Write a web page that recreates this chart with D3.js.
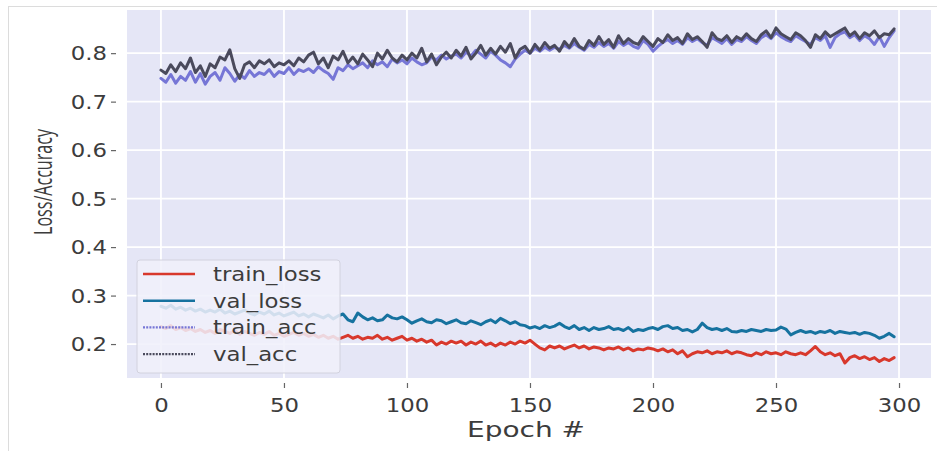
<!DOCTYPE html>
<html>
<head>
<meta charset="utf-8">
<script src="https://cdn.jsdelivr.net/npm/d3@7"></script>
<style>
  body { margin: 0; background: #fff; }
  svg { display: block; }
  text { font-family: "DejaVu Sans", sans-serif; fill: #3c3c3c; }
</style>
</head>
<body>
<svg id="chart" width="937" height="451"></svg>
<script>
// epochs are sampled every 2nd epoch, 0..298
const epochs = d3.range(0, 300, 2);

const trainLoss = [
  0.236, 0.232, 0.238, 0.230, 0.234, 0.228, 0.232, 0.226, 0.230, 0.224,
  0.228, 0.222, 0.230, 0.226, 0.222, 0.228, 0.220, 0.226, 0.222, 0.218,
  0.224, 0.220, 0.226, 0.218, 0.222, 0.216, 0.220, 0.224, 0.218, 0.222,
  0.216, 0.220, 0.214, 0.218, 0.212, 0.216, 0.210, 0.214, 0.218, 0.212,
  0.216, 0.210, 0.214, 0.212, 0.218, 0.210, 0.214, 0.208, 0.212, 0.216,
  0.208, 0.212, 0.206, 0.210, 0.204, 0.208, 0.198, 0.204, 0.200, 0.206,
  0.202, 0.206, 0.198, 0.204, 0.200, 0.206, 0.198, 0.202, 0.196, 0.202,
  0.198, 0.204, 0.200, 0.206, 0.202, 0.208, 0.200, 0.192, 0.188, 0.196,
  0.192, 0.196, 0.190, 0.194, 0.198, 0.192, 0.196, 0.190, 0.194, 0.192,
  0.188, 0.192, 0.190, 0.194, 0.188, 0.192, 0.186, 0.190, 0.188, 0.192,
  0.190, 0.186, 0.190, 0.184, 0.188, 0.180, 0.186, 0.174, 0.180, 0.184,
  0.182, 0.186, 0.180, 0.184, 0.182, 0.186, 0.180, 0.184, 0.182, 0.178,
  0.176, 0.182, 0.178, 0.184, 0.180, 0.182, 0.178, 0.184, 0.180, 0.178,
  0.182, 0.178, 0.186, 0.195, 0.184, 0.178, 0.182, 0.176, 0.180, 0.161,
  0.172, 0.176, 0.170, 0.174, 0.168, 0.172, 0.164, 0.170, 0.166, 0.172
];

const valLoss = [
  0.278, 0.274, 0.280, 0.272, 0.276, 0.270, 0.274, 0.268, 0.272, 0.266,
  0.270, 0.266, 0.272, 0.264, 0.268, 0.262, 0.266, 0.270, 0.264, 0.260,
  0.266, 0.262, 0.268, 0.260, 0.264, 0.258, 0.262, 0.266, 0.258, 0.262,
  0.256, 0.262, 0.258, 0.254, 0.260, 0.252, 0.258, 0.262, 0.250, 0.246,
  0.264, 0.256, 0.250, 0.254, 0.248, 0.250, 0.260, 0.254, 0.252, 0.256,
  0.250, 0.243, 0.248, 0.252, 0.246, 0.244, 0.250, 0.248, 0.242, 0.246,
  0.250, 0.244, 0.242, 0.248, 0.244, 0.240, 0.246, 0.250, 0.244, 0.253,
  0.248, 0.242, 0.246, 0.240, 0.238, 0.233, 0.236, 0.232, 0.238, 0.234,
  0.237, 0.243, 0.236, 0.232, 0.238, 0.230, 0.234, 0.228, 0.234, 0.230,
  0.232, 0.236, 0.230, 0.232, 0.228, 0.234, 0.226, 0.230, 0.228, 0.232,
  0.234, 0.230, 0.236, 0.238, 0.232, 0.234, 0.228, 0.230, 0.225, 0.230,
  0.243, 0.234, 0.230, 0.232, 0.228, 0.232, 0.226, 0.225, 0.228, 0.226,
  0.230, 0.228, 0.226, 0.230, 0.228, 0.229, 0.235, 0.231, 0.219, 0.224,
  0.228, 0.224, 0.226, 0.222, 0.226, 0.224, 0.228, 0.222, 0.226, 0.224,
  0.222, 0.224, 0.220, 0.224, 0.222, 0.218, 0.212, 0.216, 0.222, 0.215
];

const trainAcc = [
  0.748, 0.740, 0.756, 0.738, 0.752, 0.744, 0.762, 0.740, 0.758, 0.736,
  0.752, 0.760, 0.744, 0.770, 0.758, 0.742, 0.756, 0.748, 0.764, 0.752,
  0.760, 0.756, 0.766, 0.752, 0.762, 0.758, 0.770, 0.756, 0.766, 0.762,
  0.768, 0.760, 0.772, 0.764, 0.758, 0.746, 0.770, 0.764, 0.776, 0.768,
  0.774, 0.780, 0.770, 0.784, 0.776, 0.782, 0.772, 0.788, 0.780, 0.786,
  0.778, 0.790, 0.782, 0.776, 0.780, 0.792, 0.786, 0.796, 0.788, 0.794,
  0.798, 0.790, 0.802, 0.794, 0.806, 0.798, 0.790, 0.804, 0.796, 0.786,
  0.780, 0.772, 0.788, 0.798, 0.806, 0.800, 0.810, 0.804, 0.812, 0.806,
  0.812, 0.808, 0.816, 0.810, 0.820, 0.812, 0.806, 0.818, 0.812, 0.822,
  0.814, 0.820, 0.810, 0.824, 0.816, 0.822, 0.814, 0.810, 0.826, 0.818,
  0.804, 0.814, 0.822, 0.828, 0.820, 0.826, 0.818, 0.832, 0.824, 0.830,
  0.822, 0.816, 0.832, 0.826, 0.820, 0.830, 0.818, 0.828, 0.824, 0.834,
  0.826, 0.820, 0.832, 0.838, 0.830, 0.842, 0.834, 0.828, 0.824, 0.836,
  0.830, 0.824, 0.818, 0.832, 0.826, 0.836, 0.812, 0.832, 0.840, 0.844,
  0.832, 0.838, 0.826, 0.836, 0.830, 0.818, 0.834, 0.814, 0.832, 0.846
];

const valAcc = [
  0.765, 0.758, 0.776, 0.762, 0.780, 0.768, 0.790, 0.760, 0.774, 0.752,
  0.778, 0.770, 0.792, 0.786, 0.807, 0.768, 0.748, 0.776, 0.782, 0.770,
  0.784, 0.778, 0.786, 0.772, 0.780, 0.776, 0.784, 0.774, 0.790, 0.782,
  0.796, 0.802, 0.778, 0.790, 0.770, 0.794, 0.786, 0.804, 0.780, 0.792,
  0.778, 0.798, 0.786, 0.772, 0.800, 0.788, 0.806, 0.790, 0.782, 0.796,
  0.786, 0.800, 0.790, 0.810, 0.782, 0.798, 0.776, 0.792, 0.802, 0.790,
  0.806, 0.794, 0.812, 0.788, 0.800, 0.816, 0.796, 0.810, 0.798, 0.814,
  0.802, 0.820, 0.790, 0.808, 0.814, 0.800, 0.818, 0.806, 0.822, 0.810,
  0.816, 0.804, 0.824, 0.812, 0.830, 0.814, 0.808, 0.826, 0.816, 0.834,
  0.818, 0.828, 0.812, 0.836, 0.820, 0.830, 0.822, 0.818, 0.834, 0.824,
  0.814, 0.830, 0.822, 0.838, 0.826, 0.832, 0.820, 0.840, 0.828, 0.834,
  0.824, 0.812, 0.842, 0.830, 0.826, 0.836, 0.822, 0.834, 0.828, 0.840,
  0.830, 0.824, 0.838, 0.846, 0.832, 0.852, 0.840, 0.834, 0.828, 0.842,
  0.836, 0.826, 0.812, 0.838, 0.830, 0.844, 0.834, 0.840, 0.846, 0.852,
  0.836, 0.844, 0.830, 0.842, 0.836, 0.846, 0.832, 0.840, 0.838, 0.850
];

const xTicks = [0, 50, 100, 150, 200, 250, 300];
const yTicks = [0.2, 0.3, 0.4, 0.5, 0.6, 0.7, 0.8];

const seriesNames = ["train_loss", "val_loss", "train_acc", "val_acc"];
const seriesValues = [trainLoss, valLoss, trainAcc, valAcc];
const colors = ["#d8382c", "#16729f", "#7676d6", "#4a4a5c"];

// layout
const plot = { left: 127, right: 931, top: 10, bottom: 378 };

const svg = d3.select("#chart");

// thin frame around the figure
svg.append("rect")
  .attr("x", 8.5).attr("y", 6.5)
  .attr("width", 940).attr("height", 460)
  .attr("fill", "none")
  .attr("stroke", "#dcdcdc");

const x = d3.scaleLinear().domain([-13.8, 313]).range([plot.left, plot.right]);
const y = d3.scaleLinear().domain([0.13, 0.889]).range([plot.bottom, plot.top]);

// plot background
svg.append("rect")
  .attr("x", plot.left).attr("y", plot.top)
  .attr("width", plot.right - plot.left)
  .attr("height", plot.bottom - plot.top)
  .attr("fill", "#e5e6f6");

// grid
const grid = svg.append("g").attr("stroke", "#fff").attr("stroke-width", 1.8);
grid.selectAll(".gx").data(xTicks).join("line")
  .attr("x1", d => x(d)).attr("x2", d => x(d))
  .attr("y1", plot.top).attr("y2", plot.bottom);
grid.selectAll(".gy").data(yTicks).join("line")
  .attr("x1", plot.left).attr("x2", plot.right)
  .attr("y1", d => y(d)).attr("y2", d => y(d));

// axes
const xAxis = d3.axisBottom(x).tickValues(xTicks).tickSize(5).tickFormat(d3.format("d"));
svg.append("g")
  .attr("transform", `translate(0,${plot.bottom + 5})`)
  .call(xAxis)
  .call(g => g.select(".domain").remove())
  .call(g => g.selectAll(".tick line").attr("stroke", "#666").attr("stroke-width", 1.2))
  .call(g => g.selectAll(".tick text")
    .attr("y", 0).attr("dy", null)
    .attr("transform", "translate(0,29) scale(1.2,1)")
    .style("font-size", "19px")
    .style("font-family", "DejaVu Sans")
    .attr("fill", "#3c3c3c"));

const yAxis = d3.axisLeft(y).tickValues(yTicks).tickSize(5).tickFormat(d3.format(".1f"));
svg.append("g")
  .attr("transform", `translate(${plot.left - 11},0)`)
  .call(yAxis)
  .call(g => g.select(".domain").remove())
  .call(g => g.selectAll(".tick line").attr("stroke", "#666").attr("stroke-width", 1.2))
  .call(g => g.selectAll(".tick text")
    .attr("x", 0).attr("dy", "0.36em")
    .attr("transform", "translate(-9,0) scale(1.2,1)")
    .style("font-size", "19px")
    .style("font-family", "DejaVu Sans")
    .attr("fill", "#3c3c3c"));

// axis titles
svg.append("text")
  .attr("x", 526).attr("y", 437)
  .attr("text-anchor", "middle")
  .attr("textLength", 118).attr("lengthAdjust", "spacingAndGlyphs")
  .style("font-size", "22px")
  .text("Epoch #");

svg.append("text")
  .attr("transform", "translate(52,182) rotate(-90)")
  .attr("text-anchor", "middle")
  .attr("textLength", 106).attr("lengthAdjust", "spacingAndGlyphs")
  .style("font-family", "Open Sans")
  .style("font-size", "25px")
  .attr("fill", "#333")
  .text("Loss/Accuracy");

// lines
const line = d3.line()
  .x((d, i) => x(epochs[i]))
  .y(d => y(d));

svg.append("g")
  .selectAll("path")
  .data(seriesValues)
  .join("path")
  .attr("d", line)
  .attr("fill", "none")
  .attr("stroke", (d, i) => colors[i])
  .attr("stroke-width", 3)
  .attr("stroke-linejoin", "round")
  .attr("stroke-linecap", "round");

// legend
const legend = svg.append("g").attr("transform", "translate(137,260)");
legend.append("rect")
  .attr("width", 203).attr("height", 113)
  .attr("rx", 3)
  .attr("fill", "#f0f0fa")
  .attr("fill-opacity", 0.86)
  .attr("stroke", "#d2d2de");

const items = legend.selectAll(".item")
  .data(seriesNames)
  .join("g")
  .attr("transform", (d, i) => `translate(0,${14 + i * 26.7})`);

items.append("line")
  .attr("x1", 6).attr("x2", 58)
  .attr("stroke", (d, i) => colors[i])
  .attr("stroke-width", (d, i) => i < 2 ? 2.6 : 2.2)
  .attr("stroke-dasharray", (d, i) => i < 2 ? null : "2 1.2");

items.append("text")
  .attr("x", 0).attr("dy", "0.36em")
  .attr("transform", "translate(76,0) scale(1.2,1)")
  .style("font-size", "19px")
  .attr("fill", "#1e1e1e")
  .text(d => d);
</script>
</body>
</html>
